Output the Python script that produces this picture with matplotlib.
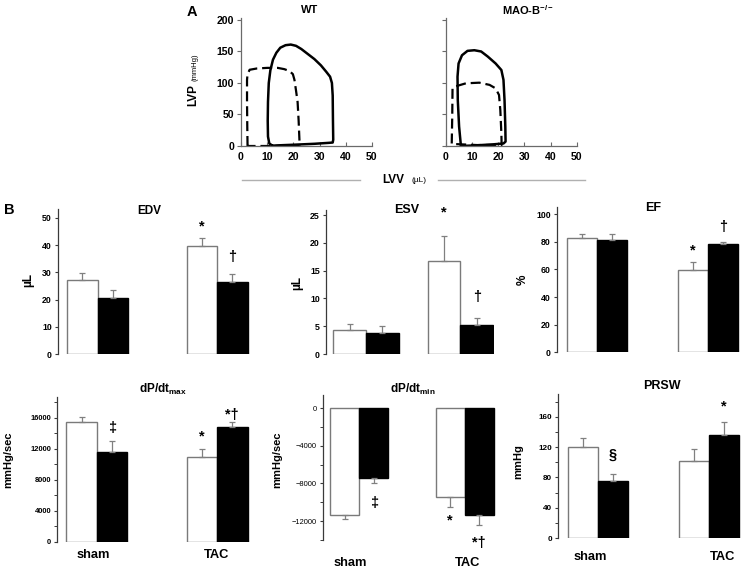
import matplotlib
matplotlib.use('Agg')
import matplotlib.pyplot as plt
from matplotlib.lines import Line2D
from matplotlib.ticker import MultipleLocator

plt.rcParams['font.family'] = ['Liberation Sans', 'DejaVu Sans']
plt.rcParams['mathtext.fontset'] = 'custom'
plt.rcParams['mathtext.rm'] = 'Liberation Sans'
plt.rcParams['mathtext.bf'] = 'Liberation Sans:bold'
plt.rcParams['mathtext.it'] = 'Liberation Sans:italic'
plt.rcParams['mathtext.default'] = 'bf'

# ---------------- data ----------------
# Panel A: pressure-volume loops (volume uL, pressure mmHg)
wt_sham_v = [12, 10.8, 10.3, 10.2, 10.3, 10.6, 11.2, 12.2, 13.5, 15, 17, 19, 21, 23, 25.5, 28, 30.5, 32.5,
             34, 34.7, 35, 35.1, 35.2, 35, 33.5, 28, 20, 14, 12]
wt_sham_p = [0.5, 4, 15, 40, 70, 100, 120, 137, 148, 156, 160, 161, 159, 154, 146, 138, 128, 118,
             110, 100, 80, 40, 10, 5.5, 5, 3.5, 2, 1, 0.5]
wt_tac_v = [2.5, 2.4, 2.3, 2.3, 2.5, 3.3, 6, 10, 14, 16.5, 18.5, 19.8, 20.4, 21, 21.6, 22, 22.4, 15, 8, 2.5]
wt_tac_p = [0, 30, 70, 105, 114, 121, 123, 124, 124, 122, 119, 114, 105, 88, 70, 40, 0, 0, 0, 0]
ko_sham_v = [5.8, 5.1, 4.6, 4.5, 4.9, 6.2, 8.3, 10.9, 13.5, 16, 19, 21.2, 22, 22.4, 22.7, 22.8, 22, 18, 11.5, 5.8]
ko_sham_p = [0, 31, 73, 110, 131, 144, 151, 152, 150, 142, 131, 120.6, 105, 73, 31, 7, 4, 2.6, 1, 0]
ko_tac_v = [2.3, 2.5, 2.6, 3.2, 7.7, 12.8, 16.7, 19, 20.3, 20.8, 21.2, 21.3, 12, 3.8, 2.3]
ko_tac_p = [4, 50, 91.5, 94, 99.5, 100.5, 97, 91.5, 81, 57, 20, 1.6, 1.5, 3, 4]
pv_titles = ['WT', 'MAO-B$^{-/-}$']

# Panel B: bars (white = WT, black = MAO-B-/-), groups sham / TAC
categories = ['sham', 'TAC']
edv_wt = [27.2, 39.6];      edv_ko = [20.7, 26.4]
edv_wt_err = [2.6, 2.9];    edv_ko_err = [2.8, 2.9]
esv_wt = [4.4, 16.7];       esv_ko = [3.7, 5.3]
esv_wt_err = [1.0, 4.5];    esv_ko_err = [1.3, 1.1]
ef_wt = [83.0, 59.6];       ef_ko = [81.4, 78.5]
ef_wt_err = [2.5, 5.6];     ef_ko_err = [4.1, 1.5]
dpmax_wt = [15500, 10900];  dpmax_ko = [11600, 14760]
dpmax_wt_err = [550, 1030]; dpmax_ko_err = [1400, 640]
dpmin_wt = [-11360, -9410]; dpmin_ko = [-7390, -11360]
dpmin_wt_err = [460, 1070]; dpmin_ko_err = [600, 1070]
prsw_wt = [119.7, 101.7];   prsw_ko = [75.8, 135.5]
prsw_wt_err = [11.9, 15.3]; prsw_ko_err = [8.4, 17.9]

# significance marks: (group, series, symbol, y)
edv_marks = [(1, 'wt', '*', 46.8), (1, 'ko', '†', 35.7)]
esv_marks = [(1, 'wt', '*', 25.4), (1, 'ko', '†', 10.3)]
ef_marks = [(1, 'wt', '*', 74), (1, 'ko', '†', 91)]
dpmax_marks = [(0, 'ko', '‡', 14630), (1, 'wt', '*', 13550), (1, 'ko', '*†', 16350)]
dpmin_marks = [(0, 'ko', '‡', -10085), (1, 'wt', '*', -11900), (1, 'ko', '*†', -14345)]
prsw_marks = [(0, 'ko', '§', 109.6), (1, 'ko', '*', 173)]

# ---------------- figure ----------------
W, H = 741, 570
fig = plt.figure(figsize=(W / 100, H / 100), dpi=100)


def px_axes(left, top, right, bottom):
    return fig.add_axes([left / W, 1 - bottom / H, (right - left) / W, (bottom - top) / H])


def ftext(x, y, s, **kw):
    kw.setdefault('ha', 'center')
    kw.setdefault('va', 'center')
    return fig.text(x / W, 1 - y / H, s, **kw)


AX_COL = '#3a3a3a'

# ---- Panel A ----
pv_specs = [
    (241, 372, wt_sham_v, wt_sham_p, wt_tac_v, wt_tac_p, True),
    (445.7, 577, ko_sham_v, ko_sham_p, ko_tac_v, ko_tac_p, False),
]
for (l, r, sv, sp, tv, tp, show_y) in pv_specs:
    ax = px_axes(l, 18.1, r, 146)
    ax.plot(sv, sp, color='black', lw=1.8, solid_joinstyle='round', solid_capstyle='round')
    ax.plot(tv, tp, color='black', lw=1.6, linestyle=(0, (4.5, 2.2)))
    ax.set_xlim(0, 50)
    ax.set_ylim(0, 203)
    ax.set_xticks(range(0, 51, 10))
    ax.set_yticks(range(0, 201, 50))
    for s in ['top', 'right']:
        ax.spines[s].set_visible(False)
    for s in ['left', 'bottom']:
        ax.spines[s].set_color('#6a6a6a')
        ax.spines[s].set_linewidth(0.9)
    ax.tick_params(axis='x', direction='in', length=3, width=0.8, color='#6a6a6a', pad=4,
                   labelsize=7.6)
    ax.tick_params(axis='y', direction='out', length=3, width=0.8, color='#6a6a6a', pad=2,
                   labelsize=7.6, labelleft=show_y)
    for lab in ax.get_xticklabels() + ax.get_yticklabels():
        lab.set_fontweight('bold')
    ax.patch.set_alpha(0)

ftext(192, 12, 'A', fontsize=10.5, fontweight='bold')
ftext(310, 10, pv_titles[0], fontsize=8, fontweight='bold')
ftext(528, 10, pv_titles[1], fontsize=8, fontweight='bold')
ftext(193, 95, 'LVP', fontsize=8.5, fontweight='bold', rotation=90)
ftext(195, 67, '(mmHg)', fontsize=5.5, rotation=90)
ftext(393, 180, 'LVV', fontsize=8.5, fontweight='bold')
ftext(419, 181, '(µL)', fontsize=6)
fig.add_artist(Line2D([242 / W, 360 / W], [1 - 180 / H, 1 - 180 / H], color='#b0b0b0', lw=1))
fig.add_artist(Line2D([438 / W, 585 / W], [1 - 180 / H, 1 - 180 / H], color='#b0b0b0', lw=1))

ftext(9, 210, 'B', fontsize=10.5, fontweight='bold')

# ---- Panel B ----
bar_specs = [
    dict(rect=(58, 209, 250, 354), c0=97.5, c1=217, bw=30.5, ylim=(0, 53.3), major=10, minor=None,
         wt=edv_wt, ko=edv_ko, wte=edv_wt_err, koe=edv_ko_err, marks=edv_marks, tfs=6.3, tbold=True,
         title='EDV', tpos=(149, 211), tsize=8.5, ylab='µL', ypos=(28, 280), ysize=8.5),
    dict(rect=(326, 210, 494, 354), c0=366, c1=460.3, bw=32.7, ylim=(0, 25.9), major=5, minor=None,
         wt=esv_wt, ko=esv_ko, wte=esv_wt_err, koe=esv_ko_err, marks=esv_marks, tfs=6.3, tbold=True,
         title='ESV', tpos=(407, 210), tsize=9, ylab='µL', ypos=(297, 283), ysize=8.5),
    dict(rect=(557, 206.7, 740, 352.3), c0=596.7, c1=708, bw=30, ylim=(0, 105.5), major=20, minor=None,
         wt=ef_wt, ko=ef_ko, wte=ef_wt_err, koe=ef_ko_err, marks=ef_marks, tfs=6.3, tbold=True,
         title='EF', tpos=(653, 208), tsize=9, ylab='%', ypos=(523, 280), ysize=8.5),
    dict(rect=(57.3, 396.8, 250, 541.7), c0=96.8, c1=217, bw=30.5, ylim=(0, 18700), major=4000,
         minor=2000, wt=dpmax_wt, ko=dpmax_ko, wte=dpmax_wt_err, koe=dpmax_ko_err, marks=dpmax_marks,
         tfs=5.4, tbold=True, title=r'$\mathbf{dP/dt_{max}}$', tpos=(163, 389), tsize=8.5,
         ylab='mmHg/sec', ypos=(8, 460), ysize=8, xl=[(93, 555), (217, 555)]),
    dict(rect=(322.7, 395.2, 496, 539.8), c0=359.3, c1=464.5, bw=29, ylim=(-14000, 1400), major=4000,
         minor=2000, wt=dpmin_wt, ko=dpmin_ko, wte=dpmin_wt_err, koe=dpmin_ko_err, marks=dpmin_marks,
         tfs=5.4, tbold=False, title=r'$\mathbf{dP/dt_{min}}$', tpos=(413, 389), tsize=8.5,
         ylab='mmHg/sec', ypos=(277, 460), ysize=8, xl=[(350, 563), (468, 563)]),
    dict(rect=(558.3, 393.9, 741, 538.3), c0=598, c1=709.3, bw=30, ylim=(0, 190), major=40, minor=20,
         wt=prsw_wt, ko=prsw_ko, wte=prsw_wt_err, koe=prsw_ko_err, marks=prsw_marks, tfs=5.9,
         tbold=True, title='PRSW', tpos=(662, 386), tsize=9, ylab='mmHg', ypos=(518, 462), ysize=8,
         xl=[(590, 557), (723, 557)]),
]

for sp in bar_specs:
    l, t, r, b = sp['rect']
    ax = px_axes(l, t, r, b)
    unit = sp['c1'] - sp['c0']
    w = sp['bw'] / unit
    xs = list(range(len(categories)))
    x_wt = [g - w / 2 for g in xs]
    x_ko = [g + w / 2 for g in xs]
    ax.bar(x_wt, sp['wt'], width=w, color='white', edgecolor='#7a7a7a', linewidth=1.0, zorder=2)
    ax.bar(x_ko, sp['ko'], width=w, color='black', edgecolor='black', linewidth=1.0, zorder=2)
    for xx, vals, errs in [(x_wt, sp['wt'], sp['wte']), (x_ko, sp['ko'], sp['koe'])]:
        lo = [e if v < 0 else 0 for v, e in zip(vals, errs)]
        hi = [0 if v < 0 else e for v, e in zip(vals, errs)]
        ax.errorbar(xx, vals, yerr=[lo, hi], fmt='none', ecolor='#808080', elinewidth=0.9,
                    capsize=2.2, capthick=0.9, zorder=3)
    for (g, ser, sym, yv) in sp['marks']:
        xm = x_wt[g] if ser == 'wt' else x_ko[g]
        ax.text(xm, yv, sym, ha='center', va='center', fontsize=10.5, fontweight='bold',
                clip_on=False)
    ax.set_xlim((l - sp['c0']) / unit, (r - sp['c0']) / unit)
    ax.set_ylim(*sp['ylim'])
    ax.yaxis.set_major_locator(MultipleLocator(sp['major']))
    if sp['minor']:
        ax.yaxis.set_minor_locator(MultipleLocator(sp['minor']))
    ax.set_xticks([])
    for s in ['top', 'right', 'bottom']:
        ax.spines[s].set_visible(False)
    ax.spines['left'].set_color(AX_COL)
    ax.spines['left'].set_linewidth(0.9)
    ax.tick_params(axis='y', which='major', direction='out', length=2.5, width=0.8, color=AX_COL,
                   pad=2, labelsize=sp['tfs'])
    ax.tick_params(axis='y', which='minor', direction='out', length=2, width=0.7, color=AX_COL)
    for lab in ax.get_yticklabels():
        lab.set_fontweight('bold' if sp['tbold'] else 'normal')
    ax.patch.set_alpha(0)
    ftext(sp['tpos'][0], sp['tpos'][1], sp['title'], fontsize=sp['tsize'], fontweight='bold')
    ftext(sp['ypos'][0], sp['ypos'][1], sp['ylab'], fontsize=sp['ysize'], fontweight='bold',
          rotation=90)
    if 'xl' in sp:
        for cat, (px, py) in zip(categories, sp['xl']):
            ftext(px, py, cat, fontsize=9.3, fontweight='bold')

fig.savefig('out.png', dpi=100)
